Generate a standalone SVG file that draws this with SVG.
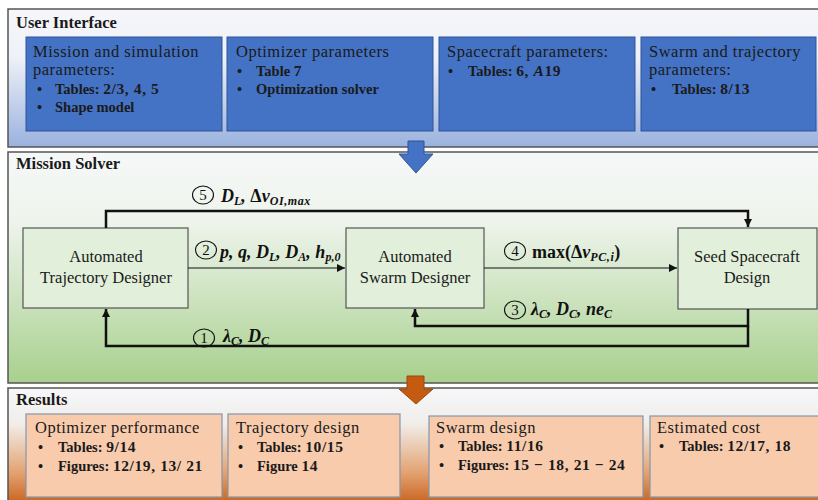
<svg xmlns="http://www.w3.org/2000/svg" width="818" height="500" viewBox="0 0 818 500">
<defs>
<linearGradient id="gTop" x1="0" y1="0" x2="0" y2="1">
<stop offset="0" stop-color="#f6f7fb"/><stop offset="0.35" stop-color="#eef1f8"/><stop offset="1" stop-color="#9ab2de"/>
</linearGradient>
<linearGradient id="gMid" x1="0" y1="0" x2="0" y2="1">
<stop offset="0" stop-color="#f6f8f8"/><stop offset="0.3" stop-color="#eef4ec"/><stop offset="1" stop-color="#a8d08d"/>
</linearGradient>
<linearGradient id="gBot" x1="0" y1="0" x2="0" y2="1">
<stop offset="0" stop-color="#f6f7fb"/><stop offset="0.3" stop-color="#f1ede9"/><stop offset="0.7" stop-color="#e3a373"/><stop offset="1" stop-color="#c55a11"/>
</linearGradient>
<marker id="ah" markerUnits="userSpaceOnUse" markerWidth="8" markerHeight="8" refX="8" refY="4" orient="auto">
<path d="M0,0 L8,4 L0,8 z" fill="#111"/>
</marker>
<style>
.panel{stroke:#555;stroke-width:1.5}
.ptitle{font-family:"Liberation Serif",serif;font-size:16.5px;font-weight:bold;fill:#1a1a1a}
.blue{fill:#4472c4;stroke:#2f5597;stroke-width:1}
.org{fill:#f8cbad;stroke:#8497b0;stroke-width:1.2}
.node{fill:#e2efda;stroke:#555;stroke-width:1.2}
.bt{font-family:"Liberation Serif",serif;font-size:16.5px;letter-spacing:0.5px;fill:#1a1a1a}
.bl{font-family:"Liberation Serif",serif;font-size:14.5px;font-weight:bold;fill:#1a1a1a}
.n{font-size:15.5px;letter-spacing:0.6px}
.nt{font-family:"Liberation Serif",serif;font-size:16.5px;fill:#1a1a1a;text-anchor:middle}
.m{font-family:"Liberation Serif",serif;font-size:18px;font-weight:bold;font-style:italic;fill:#111}
.sub{font-size:12px}
.up{font-style:normal}
.cn{font-family:"Liberation Serif",serif;font-size:15px;fill:#111;text-anchor:middle}
.cc{fill:none;stroke:#111;stroke-width:1.1}
.thick{fill:none;stroke:#111;stroke-width:2.5}
.thin{fill:none;stroke:#111;stroke-width:1.2}
</style>
</defs>

<!-- Panels -->
<g id="panel-ui">
<rect class="panel" x="8" y="9" width="815" height="138" fill="url(#gTop)"/>
<text class="ptitle" x="16" y="28">User Interface</text>
</g>
<g id="panel-solver">
<rect class="panel" x="8" y="152" width="815" height="231" fill="url(#gMid)"/>
<text class="ptitle" x="16" y="169">Mission Solver</text>
</g>
<g id="panel-results">
<rect class="panel" x="8" y="388" width="815" height="120" fill="url(#gBot)"/>
<text class="ptitle" x="16" y="405">Results</text>
</g>

<!-- User interface boxes -->
<g id="ui-mission">
<rect class="blue" x="26" y="37" width="196" height="94"/>
<text class="bt" x="33" y="57">Mission and simulation</text>
<text class="bt" x="33" y="75">parameters:</text>
<text class="bl" x="37" y="94">•</text><text class="bl" x="55" y="94">Tables: <tspan class="n">2/3, 4, 5</tspan></text>
<text class="bl" x="37" y="112">•</text><text class="bl" x="55" y="112">Shape model</text>
</g>
<g id="ui-optimizer">
<rect class="blue" x="227" y="37" width="206" height="94"/>
<text class="bt" x="236" y="57">Optimizer parameters</text>
<text class="bl" x="237" y="76">•</text><text class="bl" x="256" y="76">Table <tspan class="n">7</tspan></text>
<text class="bl" x="237" y="94">•</text><text class="bl" x="256" y="94">Optimization solver</text>
</g>
<g id="ui-spacecraft">
<rect class="blue" x="439" y="37" width="196" height="94"/>
<text class="bt" x="447" y="57">Spacecraft parameters:</text>
<text class="bl" x="448" y="76">•</text><text class="bl" x="468" y="76">Tables: <tspan class="n">6, <tspan font-style="italic">A</tspan>19</tspan></text>
</g>
<g id="ui-swarm">
<rect class="blue" x="641" y="37" width="175" height="94"/>
<text class="bt" x="649" y="57">Swarm and trajectory</text>
<text class="bt" x="649" y="75">parameters:</text>
<text class="bl" x="651" y="94">•</text><text class="bl" x="672" y="94">Tables: <tspan class="n">8/13</tspan></text>
</g>

<!-- Big arrows -->
<g id="arrow-blue">
<polygon points="408,141 424,141 424,154 433,154 416,173 399,154 408,154" fill="#4472c4" stroke="#2f5597" stroke-width="1"/>
</g>
<g id="arrow-orange">
<polygon points="407,376 424,376 424,389 433,389 416,404 399,389 407,389" fill="#c55a11" stroke="#a0470c" stroke-width="1"/>
</g>

<!-- Nodes -->
<g id="atd">
<rect class="node" x="23" y="228" width="165" height="80"/>
<text class="nt" x="106" y="262">Automated</text>
<text class="nt" x="106" y="283">Trajectory Designer</text>
</g>
<g id="asd">
<rect class="node" x="346" y="228" width="138" height="80"/>
<text class="nt" x="415" y="262">Automated</text>
<text class="nt" x="415" y="283">Swarm Designer</text>
</g>
<g id="ssd">
<rect class="node" x="678" y="228" width="139" height="81"/>
<text class="nt" x="747" y="262">Seed Spacecraft</text>
<text class="nt" x="747" y="283">Design</text>
</g>

<!-- Connectors -->
<g id="connectors">
<path class="thick" d="M106,228 V211 H748 V227" marker-end="url(#ah)"/>
<path class="thin" d="M188,268 H345" marker-end="url(#ah)"/>
<path class="thin" d="M484,268 H677" marker-end="url(#ah)"/>
<path class="thick" d="M748,309 V326 H415 V309" marker-end="url(#ah)"/>
<path class="thick" d="M748,326 V346 H106 V309" marker-end="url(#ah)"/>

<!-- labels -->
<ellipse class="cc" cx="203" cy="195" rx="10.5" ry="9"/>
<text class="cn" x="203" y="200">5</text>
<text class="m" x="221" y="202">D<tspan class="sub" dy="3">L</tspan><tspan dy="-3">, </tspan><tspan class="up">Δ</tspan>v<tspan class="sub" dy="3" letter-spacing="0.6">OI,max</tspan></text>

<ellipse class="cc" cx="206" cy="250" rx="10.5" ry="9"/>
<text class="cn" x="206" y="255">2</text>
<text class="m" x="220" y="258">p, q, D<tspan class="sub" dy="3">L</tspan><tspan dy="-3">, D</tspan><tspan class="sub" dy="3">A</tspan><tspan dy="-3">, h</tspan><tspan class="sub" dy="3">p,0</tspan></text>

<ellipse class="cc" cx="515" cy="251" rx="10.5" ry="9"/>
<text class="cn" x="515" y="256">4</text>
<text class="m" x="532" y="258"><tspan class="up">max(Δ</tspan>v<tspan class="sub" dy="3" letter-spacing="0.6">PC,i</tspan><tspan class="up" dy="-3">)</tspan></text>

<ellipse class="cc" cx="515" cy="310" rx="10.5" ry="9"/>
<text class="cn" x="515" y="315">3</text>
<text class="m" x="531" y="315">λ<tspan class="sub" dy="3">C</tspan><tspan dy="-3">, D</tspan><tspan class="sub" dy="3">C</tspan><tspan dy="-3">, ne</tspan><tspan class="sub" dy="3">C</tspan></text>

<ellipse class="cc" cx="204" cy="338" rx="10.5" ry="9"/>
<text class="cn" x="204" y="343">1</text>
<text class="m" x="223" y="342">λ<tspan class="sub" dy="3">C</tspan><tspan dy="-3">, D</tspan><tspan class="sub" dy="3">C</tspan></text>
</g>

<!-- Results boxes -->
<g id="res-optimizer">
<rect class="org" x="26" y="414" width="196" height="83"/>
<text class="bt" x="35" y="433">Optimizer performance</text>
<text class="bl" x="38" y="452">•</text><text class="bl" x="58" y="452">Tables: <tspan class="n">9/14</tspan></text>
<text class="bl" x="38" y="471">•</text><text class="bl" x="58" y="471">Figures: <tspan class="n">12/19, 13/ 21</tspan></text>
</g>
<g id="res-trajectory">
<rect class="org" x="228" y="414" width="172" height="83"/>
<text class="bt" x="236" y="433">Trajectory design</text>
<text class="bl" x="238" y="452">•</text><text class="bl" x="257" y="452">Tables: <tspan class="n">10/15</tspan></text>
<text class="bl" x="238" y="471">•</text><text class="bl" x="257" y="471">Figure <tspan class="n">14</tspan></text>
</g>
<g id="res-swarm">
<rect class="org" x="429" y="416" width="214" height="81"/>
<text class="bt" x="436" y="433">Swarm design</text>
<text class="bl" x="439" y="451">•</text><text class="bl" x="458" y="451">Tables: <tspan class="n">11/16</tspan></text>
<text class="bl" x="439" y="470">•</text><text class="bl" x="458" y="470">Figures: <tspan class="n">15 − 18, 21 − 24</tspan></text>
</g>
<g id="res-cost">
<rect class="org" x="650" y="416" width="175" height="81"/>
<text class="bt" x="657" y="433">Estimated cost</text>
<text class="bl" x="659" y="451">•</text><text class="bl" x="679" y="451">Tables: <tspan class="n">12/17, 18</tspan></text>
</g>
</svg>
